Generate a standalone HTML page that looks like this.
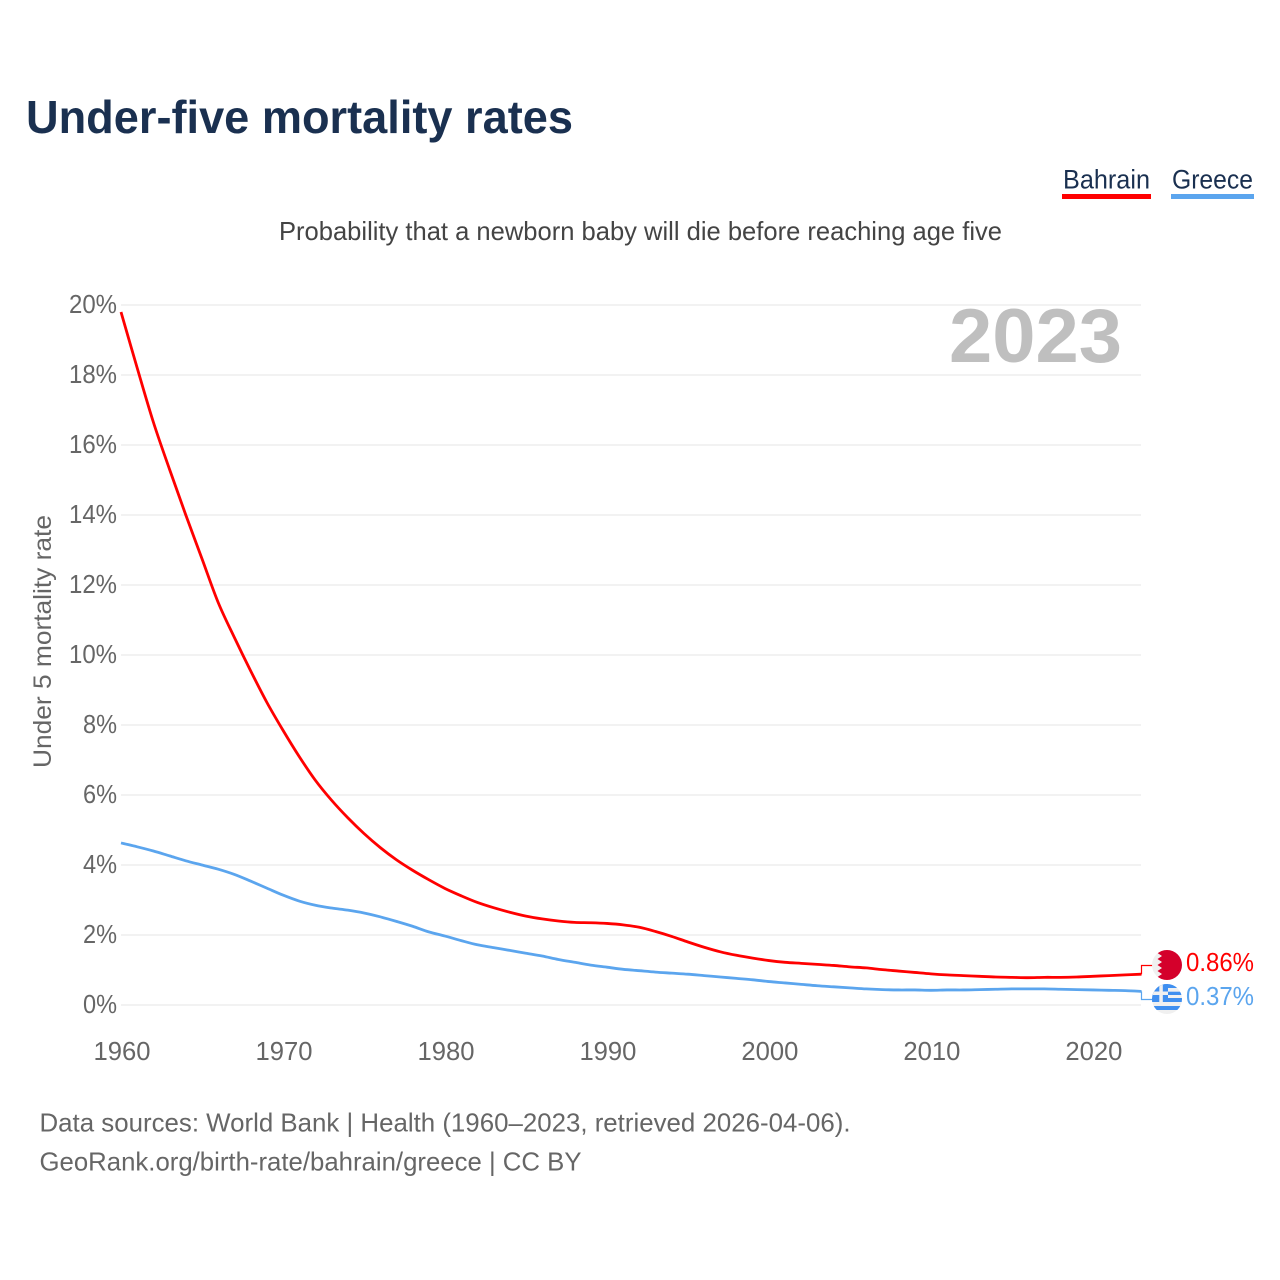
<!DOCTYPE html>
<html lang="en">
<head>
<meta charset="utf-8">
<title>Under-five mortality rates</title>
<style>
html,body{margin:0;padding:0;background:#fff;width:1280px;height:1280px;overflow:hidden}
svg{display:block}
text{font-family:"Liberation Sans",Arial,sans-serif}
</style>
</head>
<body>
<svg id="chart" xmlns="http://www.w3.org/2000/svg" width="1280" height="1280" viewBox="0 0 1280 1280">
  <rect width="1280" height="1280" fill="#fff"/>
  <text x="26" y="133" font-size="46" font-weight="700" fill="#1a3050" textLength="547" lengthAdjust="spacingAndGlyphs">Under-five mortality rates</text>

  <g>
    <text x="1063" y="188.5" font-size="27" fill="#1a3050" textLength="87" lengthAdjust="spacingAndGlyphs">Bahrain</text>
    <rect x="1062" y="194" width="89" height="5" fill="#ff0000"/>
  </g>
  <g>
    <text x="1172" y="188.5" font-size="27" fill="#1a3050" textLength="81" lengthAdjust="spacingAndGlyphs">Greece</text>
    <rect x="1171" y="194" width="83" height="5" fill="#5ba5ee"/>
  </g>

  <text x="279" y="240" font-size="26" fill="#444" textLength="723" lengthAdjust="spacingAndGlyphs">Probability that a newborn baby will die before reaching age five</text>

  <g id="grid"></g>
  <g id="yticks"></g>
  <g id="xticks"></g>

  <text transform="translate(51 768) rotate(-90)" font-size="25" fill="#666" textLength="253" lengthAdjust="spacingAndGlyphs">Under 5 mortality rate</text>
  <text x="949" y="362" font-size="76" font-weight="700" fill="#bfbfbf" textLength="173" lengthAdjust="spacingAndGlyphs">2023</text>

  <g id="series"></g>
  <g id="connectors"></g>

  <defs>
    <clipPath id="clip-bh"><circle cx="1167" cy="965" r="15"/></clipPath>
    <clipPath id="clip-gr"><circle cx="1167" cy="999" r="15"/></clipPath>
  </defs>

  <g clip-path="url(#clip-bh)">
    <rect x="1150" y="948" width="34" height="34" fill="#f0f0f0"/>
    <polygon points="1157,950 1162,950 1157.5,953 1162,956 1157.5,959 1162,962 1157.5,965 1162,968 1157.5,971 1162,974 1157.5,977 1162,980 1184,980 1184,950" fill="#d4002b"/>
  </g>
  <g clip-path="url(#clip-gr)">
    <rect x="1150" y="983" width="34" height="33" fill="#f0f0f0"/>
    <rect x="1150" y="983" width="34" height="5" fill="#3f8ff0"/>
    <rect x="1150" y="991.7" width="34" height="3.3" fill="#3f8ff0"/>
    <rect x="1150" y="998" width="34" height="4" fill="#3f8ff0"/>
    <rect x="1150" y="1006" width="34" height="4" fill="#3f8ff0"/>
    <rect x="1150" y="983" width="18" height="19" fill="#3f8ff0"/>
    <rect x="1150" y="991.5" width="18" height="3.5" fill="#f0f0f0"/>
    <rect x="1159.3" y="983" width="3.5" height="19" fill="#f0f0f0"/>
  </g>

  <text x="1186" y="971" font-size="26" fill="#ff0000" textLength="68" lengthAdjust="spacingAndGlyphs">0.86%</text>
  <text x="1186" y="1005" font-size="26" fill="#5ba5ee" textLength="68" lengthAdjust="spacingAndGlyphs">0.37%</text>

  <text x="39.5" y="1131.5" font-size="26" fill="#666" textLength="811" lengthAdjust="spacingAndGlyphs">Data sources: World Bank | Health (1960–2023, retrieved 2026-04-06).</text>
  <text x="39.5" y="1170.5" font-size="26" fill="#666" textLength="542" lengthAdjust="spacingAndGlyphs">GeoRank.org/birth-rate/bahrain/greece | CC BY</text>
</svg>

<script>
const yTickValues = [0, 2, 4, 6, 8, 10, 12, 14, 16, 18, 20];
const xTickValues = [1960, 1970, 1980, 1990, 2000, 2010, 2020];
const startYear = 1960;
const bahrainValues = [
  19.8, 18.2, 16.65, 15.3, 14.0, 12.75, 11.5, 10.5, 9.55, 8.65,
  7.85, 7.1, 6.42, 5.85, 5.35, 4.9, 4.5, 4.15, 3.85, 3.58,
  3.33, 3.12, 2.93, 2.78, 2.65, 2.54, 2.46, 2.4, 2.36, 2.35,
  2.33, 2.29, 2.22, 2.1, 1.96, 1.8, 1.65, 1.52, 1.42, 1.34,
  1.27, 1.22, 1.19, 1.16, 1.13, 1.09, 1.06, 1.01, 0.97, 0.93,
  0.89, 0.86, 0.84, 0.82, 0.8, 0.79, 0.78, 0.79, 0.79, 0.8,
  0.82, 0.84, 0.86, 0.88
];
const greeceValues = [
  4.63, 4.52, 4.4, 4.26, 4.12, 4.0, 3.88, 3.73, 3.54, 3.34,
  3.14, 2.97, 2.85, 2.77, 2.71, 2.63, 2.52, 2.39, 2.25, 2.09,
  1.97, 1.84, 1.72, 1.64, 1.56, 1.48, 1.4, 1.3, 1.22, 1.14,
  1.08, 1.02, 0.98, 0.94, 0.91, 0.88, 0.84, 0.8, 0.76, 0.72,
  0.67, 0.63, 0.59, 0.55, 0.52, 0.49, 0.46, 0.44, 0.43, 0.43,
  0.42, 0.43, 0.43, 0.44, 0.45, 0.46, 0.46, 0.46, 0.45, 0.44,
  0.43, 0.42, 0.41, 0.39
];

const NS = 'http://www.w3.org/2000/svg';
function xScale(year) { return 121 + (year - 1960) * (1020.5 / 63); }
function yScale(v) { return 1005 - v * 35; }
function make(tag, parent, attrs) {
  const el = document.createElementNS(NS, tag);
  for (const k in attrs) el.setAttribute(k, attrs[k]);
  parent.appendChild(el);
  return el;
}

const gridG = document.getElementById('grid');
const yG = document.getElementById('yticks');
yTickValues.forEach(function (v) {
  const line = make('line', gridG, { x1: 121, x2: 1141, y1: yScale(v), y2: yScale(v), stroke: '#eeeeee', 'stroke-width': 1.4 });
  
  
  const t = make('text', yG, { x: 117, y: yScale(v) + 8, 'font-size': 26, fill: '#666', 'text-anchor': 'end' });
  
  
  t.setAttribute('textLength', v < 10 ? 34 : 48);
  t.setAttribute('lengthAdjust', 'spacingAndGlyphs');
  t.textContent = v + '%';
});

const xG = document.getElementById('xticks');
xTickValues.forEach(function (y) {
  const t = make('text', xG, { x: xScale(y) + 1, y: 1060, 'font-size': 26, fill: '#666', 'text-anchor': 'middle' });
  
  
  t.setAttribute('textLength', 57);
  t.setAttribute('lengthAdjust', 'spacingAndGlyphs');
  t.textContent = y;
});

function smoothPath(values) {
  const p = values.map(function (v, i) { return [xScale(startYear + i), yScale(v)]; });
  let d = 'M' + p[0][0].toFixed(2) + ' ' + p[0][1].toFixed(2);
  for (let i = 0; i < p.length - 1; i++) {
    const a = p[Math.max(i - 1, 0)], b = p[i], c = p[i + 1], e = p[Math.min(i + 2, p.length - 1)];
    const c1x = b[0] + (c[0] - a[0]) / 6, c1y = b[1] + (c[1] - a[1]) / 6;
    const c2x = c[0] - (e[0] - b[0]) / 6, c2y = c[1] - (e[1] - b[1]) / 6;
    d += 'C' + c1x.toFixed(2) + ' ' + c1y.toFixed(2) + ' ' + c2x.toFixed(2) + ' ' + c2y.toFixed(2) + ' ' + c[0].toFixed(2) + ' ' + c[1].toFixed(2);
  }
  return d;
}
const seriesG = document.getElementById('series');
const bahrainLine = make('path', seriesG, { d: smoothPath(bahrainValues), fill: 'none', stroke: '#ff0000', 'stroke-width': 2.8, 'stroke-linejoin': 'round' });


const greeceLine = make('path', seriesG, { d: smoothPath(greeceValues), fill: 'none', stroke: '#5ba5ee', 'stroke-width': 2.8, 'stroke-linejoin': 'round' });



const connG = document.getElementById('connectors');
function connector(values, labelY, color) {
  const x = xScale(startYear + values.length - 1);
  const y = yScale(values[values.length - 1]);
  return make('polyline', connG, { points: x + ',' + y + ' ' + x + ',' + labelY + ' ' + (x + 12) + ',' + labelY, fill: 'none', stroke: color, 'stroke-width': 1.2 });
}
const bahrainConn = connector(bahrainValues, 965.5, '#ff0000');


const greeceConn = connector(greeceValues, 999.5, '#5ba5ee');


</script>
</body>
</html>
